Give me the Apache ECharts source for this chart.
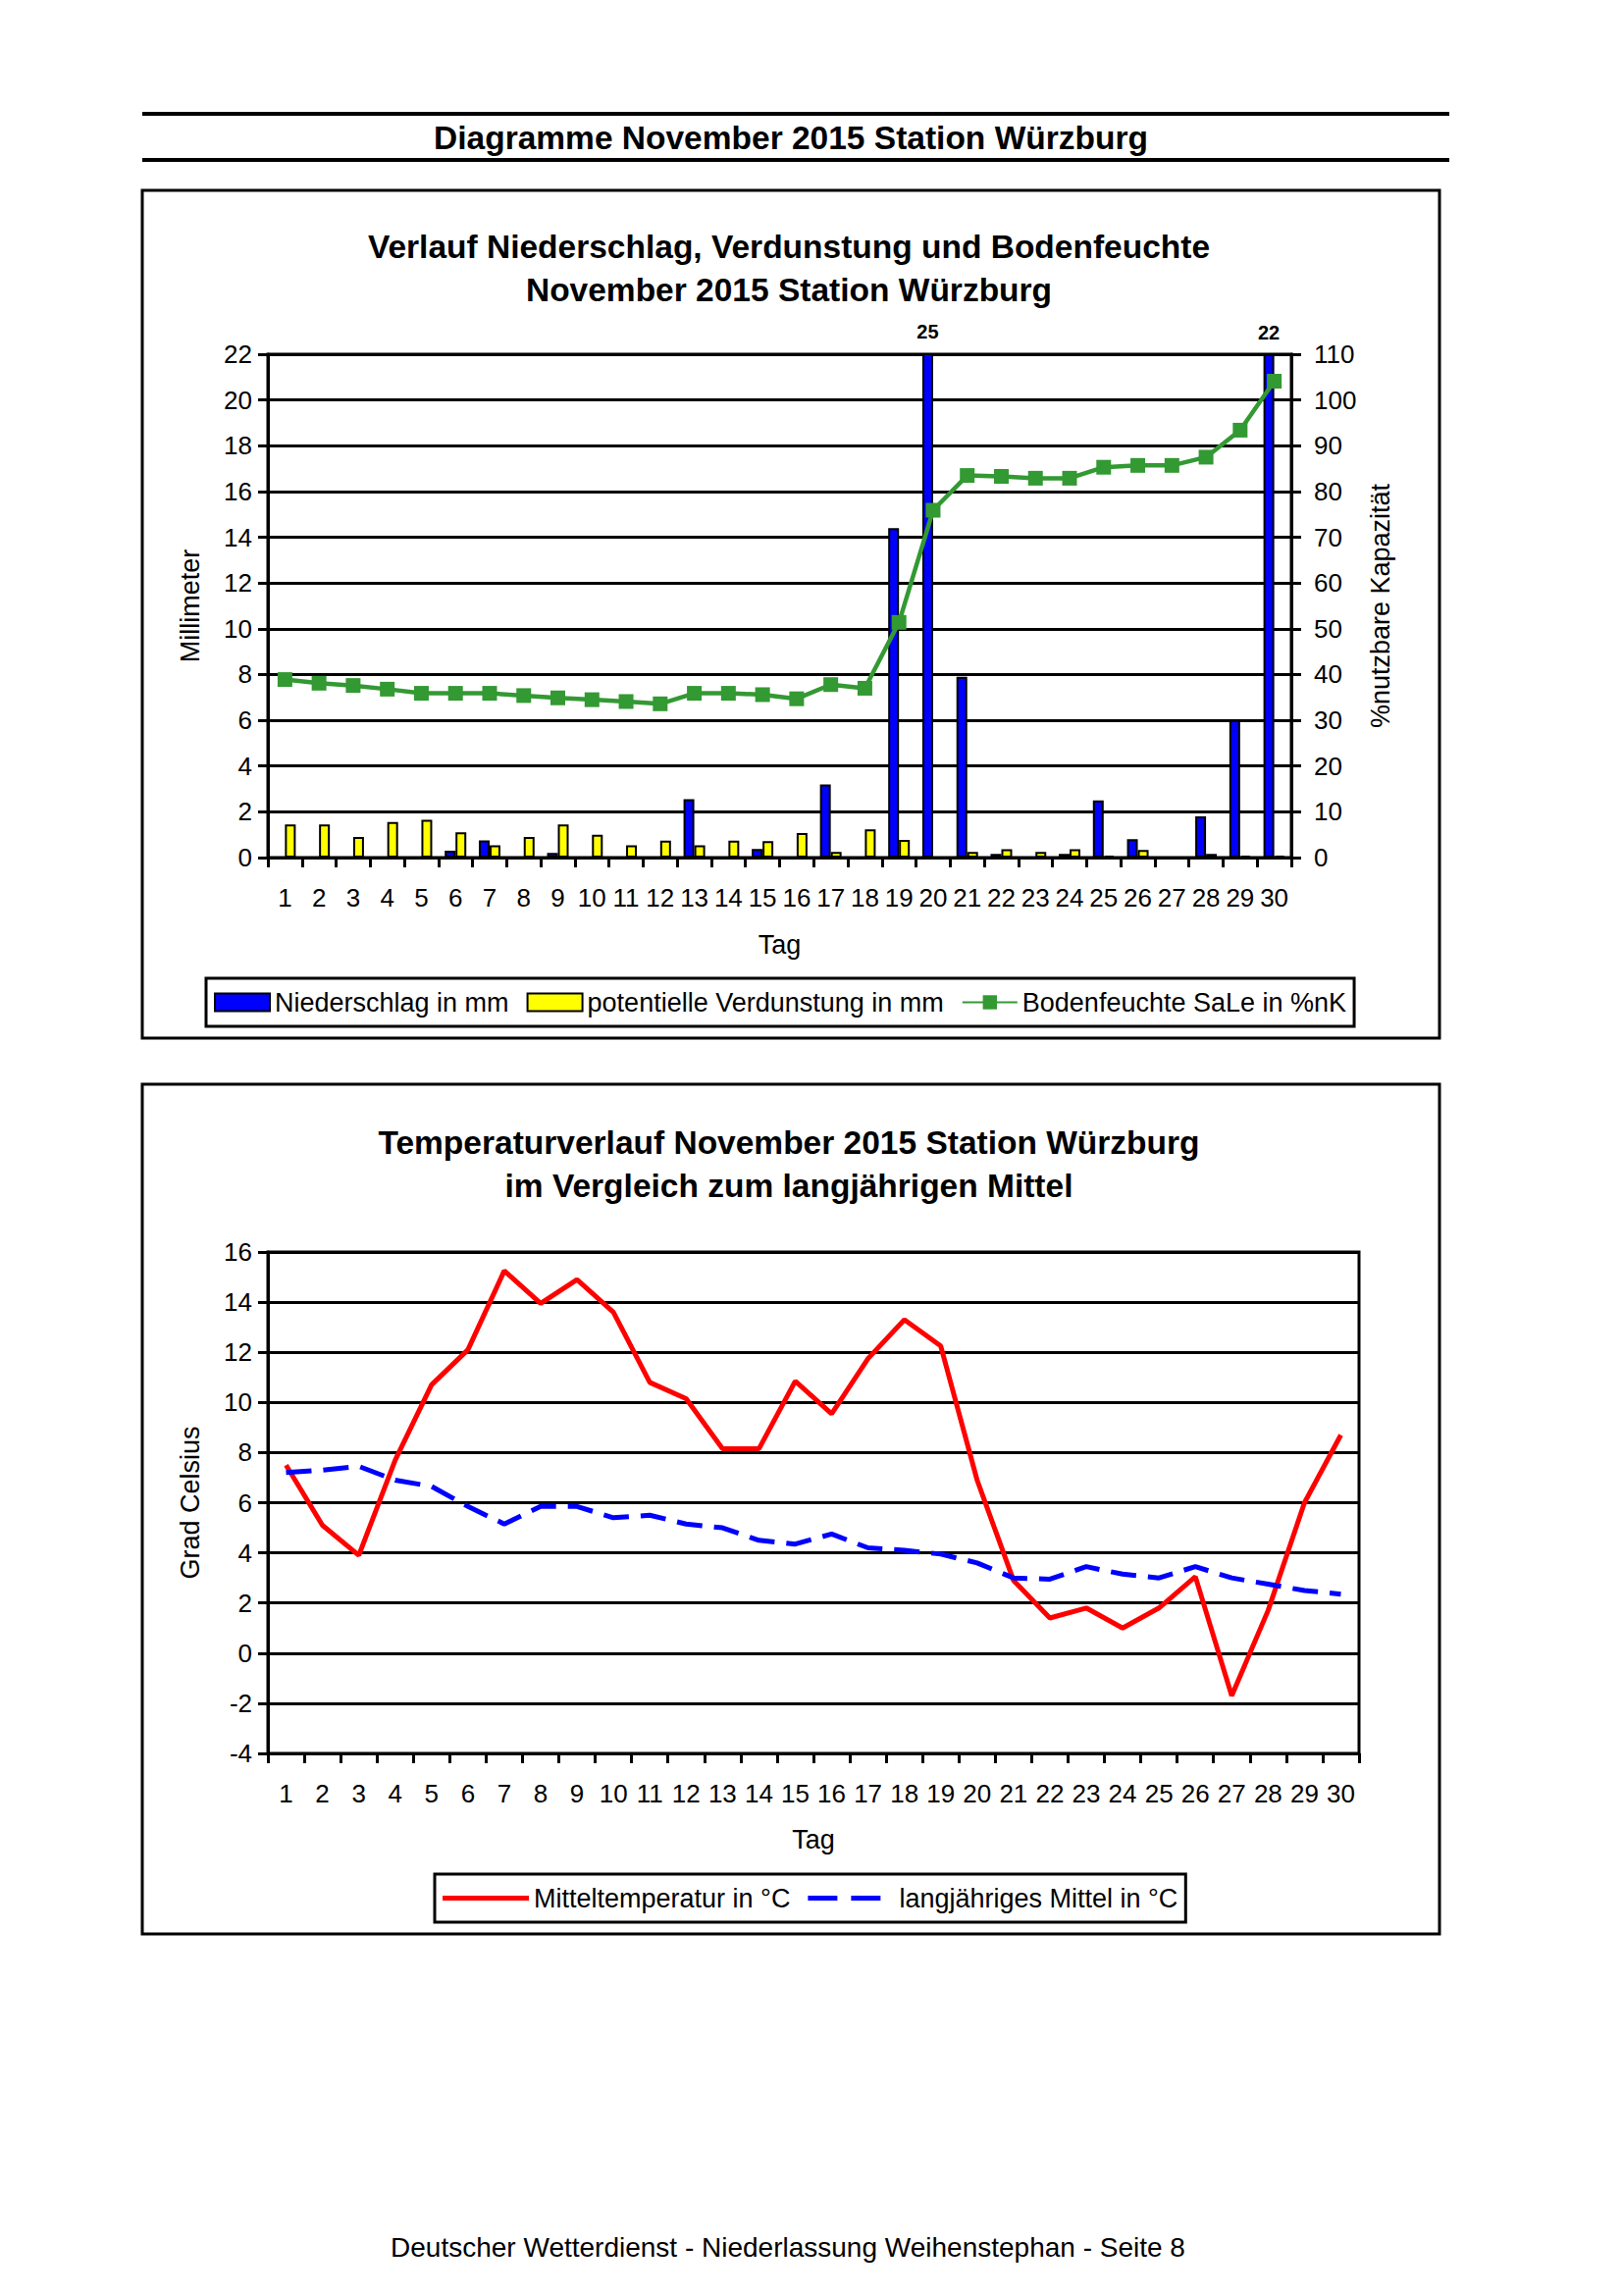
<!DOCTYPE html>
<html><head><meta charset="utf-8">
<script src="https://cdn.jsdelivr.net/npm/echarts@6/dist/echarts.min.js"></script>
<style>html,body{margin:0;padding:0;background:#fff}#c{width:1653px;height:2340px}</style>
</head><body><div id="c"></div>
<script>
const days = ['1','2','3','4','5','6','7','8','9','10','11','12','13','14','15','16','17','18','19','20','21','22','23','24','25','26','27','28','29','30'];
const niederschlag = [0,0,0,0,0,0.3,0.75,0,0.2,0,0,0,2.55,0,0.38,0,3.2,0,14.4,25,7.9,0.16,0,0.16,2.5,0.8,0,1.8,6.0,22];
const verdunstung = [1.45,1.45,0.9,1.55,1.65,1.1,0.54,0.9,1.45,1.0,0.54,0.74,0.54,0.74,0.72,1.07,0.25,1.23,0.77,0,0.25,0.36,0.25,0.36,0.08,0.33,0,0.16,0.08,0.08];
const bodenfeuchte = [38.9,38.1,37.6,36.8,35.9,35.9,35.9,35.4,34.9,34.5,34.1,33.6,35.9,35.9,35.6,34.7,37.8,37.0,51.4,75.9,83.5,83.3,82.9,82.9,85.3,85.7,85.7,87.5,93.4,104.1];
const mitteltemperatur = [7.5,5.1,3.9,7.7,10.7,12.1,15.25,13.95,14.9,13.6,10.8,10.15,8.15,8.15,10.85,9.55,11.75,13.3,12.25,6.9,2.9,1.4,1.8,1.0,1.8,3.05,-1.7,1.7,6.0,8.7];
const langjMittel = [7.2,7.3,7.45,6.9,6.65,5.85,5.15,5.85,5.85,5.4,5.5,5.15,5.0,4.5,4.35,4.75,4.2,4.1,3.95,3.6,3.0,2.95,3.45,3.15,3.0,3.45,3.0,2.75,2.5,2.35];
const mmMax = 22;

const FONT = '"Liberation Sans", Arial, sans-serif';
const chart = echarts.init(document.getElementById('c'), null, {renderer:'svg', width:1653, height:2340});

const axisLineStyle = {show:true, onZero:false, lineStyle:{color:'#000', width:3}};
const tickStyle = {show:true, length:10, inside:false, lineStyle:{color:'#000', width:3}};
const labelStyle = {color:'#000', fontSize:26, fontFamily:FONT};
const nameStyle = {color:'#000', fontSize:27, fontFamily:FONT};

function txt(x, y, text, size, bold) {
  return {type:'text', x:x, y:y, style:{text:text, fontSize:size, fontWeight:bold?'bold':'normal', fontFamily:FONT, align:'center', verticalAlign:'middle', fill:'#000'}};
}

const option = {
  animation:false,
  backgroundColor:'#fff',
  textStyle:{fontFamily:FONT, color:'#000'},
  graphic:[
    {type:'line', shape:{x1:145,y1:116,x2:1477,y2:116}, style:{stroke:'#000', lineWidth:4}},
    txt(806, 140, 'Diagramme November 2015 Station Würzburg', 33.5, true),
    {type:'line', shape:{x1:145,y1:163,x2:1477,y2:163}, style:{stroke:'#000', lineWidth:4}},
    {type:'rect', shape:{x:145,y:194,width:1322,height:864}, style:{fill:'none', stroke:'#000', lineWidth:3}},
    txt(804, 251, 'Verlauf Niederschlag, Verdunstung und Bodenfeuchte', 33.5, true),
    txt(804, 295, 'November 2015 Station Würzburg', 33.5, true),
    {type:'rect', shape:{x:145,y:1105,width:1322,height:866}, style:{fill:'none', stroke:'#000', lineWidth:3}},
    txt(804, 1164, 'Temperaturverlauf November 2015 Station Würzburg', 33.5, true),
    txt(804, 1208, 'im Vergleich zum langjährigen Mittel', 33.5, true),
    txt(803, 2290, 'Deutscher Wetterdienst - Niederlassung Weihenstephan - Seite 8', 28, false)
  ],
  legend:[
    {data:[{name:'Niederschlag in mm', icon:'rect'},{name:'potentielle Verdunstung in mm', icon:'rect'},'Bodenfeuchte SaLe in %nK'],
     left:210, top:997, padding:[11,8,11,8], itemGap:18, itemWidth:56, itemHeight:18,
     borderColor:'#000', borderWidth:3, selectedMode:false,
     textStyle:{fontSize:27, color:'#000', fontFamily:FONT}},
    {data:[{name:'Mitteltemperatur in °C', icon:'rect'},
           {name:'langjähriges Mittel in °C', icon:'path://M0,0H30V5H0Z M44,0H74V5H44Z M88,0H88.01V0.01H88Z'}],
     left:443, top:1910, padding:[11,8,11,8], itemGap:18, itemWidth:88, itemHeight:5,
     borderColor:'#000', borderWidth:3, selectedMode:false,
     textStyle:{fontSize:27, color:'#000', fontFamily:FONT}}
  ],
  grid:[
    {left:273, top:361, width:1043, height:513, show:true, borderColor:'#000', borderWidth:3},
    {left:273, top:1276, width:1112, height:511, show:true, borderColor:'#000', borderWidth:3}
  ],
  xAxis:[
    {gridIndex:0, type:'category', data:days, boundaryGap:true,
     name:'Tag', nameLocation:'middle', nameGap:75, nameTextStyle:nameStyle,
     axisLine:axisLineStyle, axisTick:Object.assign({interval:0}, tickStyle),
     axisLabel:Object.assign({interval:0, margin:28}, labelStyle), splitLine:{show:false}},
    {gridIndex:1, type:'category', data:days, boundaryGap:true,
     name:'Tag', nameLocation:'middle', nameGap:74, nameTextStyle:nameStyle,
     axisLine:axisLineStyle, axisTick:Object.assign({interval:0}, tickStyle),
     axisLabel:Object.assign({interval:0, margin:28}, labelStyle), splitLine:{show:false}}
  ],
  yAxis:[
    {gridIndex:0, type:'value', min:0, max:mmMax, interval:2,
     name:'Millimeter', nameLocation:'middle', nameRotate:90, nameGap:66, nameTextStyle:nameStyle,
     axisLine:axisLineStyle, axisTick:tickStyle, axisLabel:Object.assign({margin:16}, labelStyle),
     splitLine:{show:true, lineStyle:{color:'#000', width:3}}},
    {gridIndex:0, type:'value', position:'right', min:0, max:110, interval:10,
     name:'%nutzbare Kapazität', nameLocation:'middle', nameRotate:90, nameGap:77, nameTextStyle:nameStyle,
     axisLine:axisLineStyle, axisTick:tickStyle, axisLabel:Object.assign({margin:23}, labelStyle),
     splitLine:{show:false}},
    {gridIndex:1, type:'value', min:-4, max:16, interval:2,
     name:'Grad Celsius', nameLocation:'middle', nameRotate:90, nameGap:66, nameTextStyle:nameStyle,
     axisLine:axisLineStyle, axisTick:tickStyle, axisLabel:Object.assign({margin:16}, labelStyle),
     splitLine:{show:true, lineStyle:{color:'#000', width:3}}}
  ],
  series:[
    {name:'Niederschlag in mm', type:'bar', xAxisIndex:0, yAxisIndex:0,
     data: niederschlag.map(v => v >= mmMax ? {value:v, label:{show:true}} : v),
     barWidth:11, barGap:'0%', clip:true,
     itemStyle:{color:'#0000FF', borderColor:'#000', borderWidth:2},
     label:{show:false, position:'top', distance:12, fontSize:20, fontWeight:'bold', color:'#000', fontFamily:FONT}},
    {name:'potentielle Verdunstung in mm', type:'bar', xAxisIndex:0, yAxisIndex:0,
     data: verdunstung, barWidth:11, barGap:'0%',
     itemStyle:{color:'#FFFF00', borderColor:'#000', borderWidth:2}},
    {name:'Bodenfeuchte SaLe in %nK', type:'line', xAxisIndex:0, yAxisIndex:1,
     data: bodenfeuchte, symbol:'rect', symbolSize:15,
     lineStyle:{color:'#339933', width:4.5}, itemStyle:{color:'#339933'}},
    {name:'Mitteltemperatur in °C', type:'line', xAxisIndex:1, yAxisIndex:2,
     data: mitteltemperatur, symbol:'none',
     lineStyle:{color:'#FF0000', width:5}, itemStyle:{color:'#FF0000'}},
    {name:'langjähriges Mittel in °C', type:'line', xAxisIndex:1, yAxisIndex:2,
     data: langjMittel, symbol:'none',
     lineStyle:{color:'#0000FF', width:5, type:[26,12]}, itemStyle:{color:'#0000FF'}}
  ]
};
chart.setOption(option);
</script>
</body></html>
